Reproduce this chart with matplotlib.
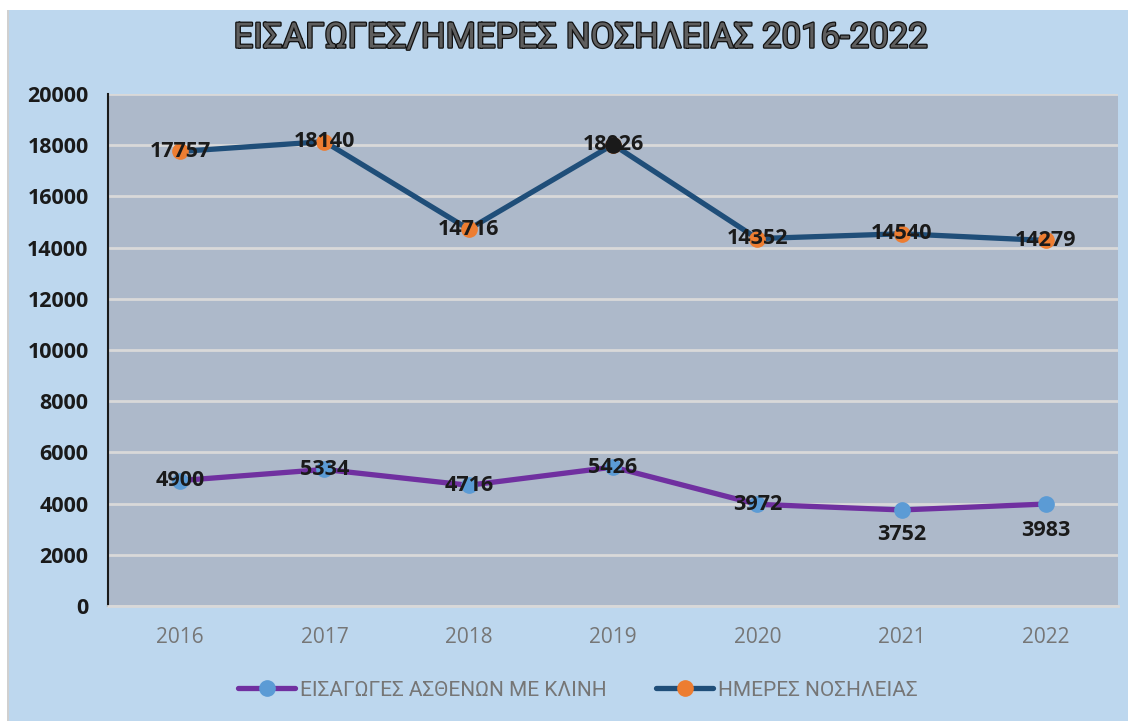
import matplotlib
matplotlib.use('Agg')
import matplotlib.pyplot as plt
import matplotlib.patheffects as pe
from matplotlib.patches import Rectangle

years = ['2016', '2017', '2018', '2019', '2020', '2021', '2022']
admissions = [4900, 5334, 4716, 5426, 3972, 3752, 3983]
hosp_days = [17757, 18140, 14716, 18026, 14352, 14540, 14279]

admissions_name = 'ΕΙΣΑΓΩΓΕΣ ΑΣΘΕΝΩΝ ΜΕ ΚΛΙΝΗ'
hosp_days_name = 'ΗΜΕΡΕΣ ΝΟΣΗΛΕΙΑΣ'
title = 'ΕΙΣΑΓΩΓΕΣ/ΗΜΕΡΕΣ ΝΟΣΗΛΕΙΑΣ 2016-2022'

# label offsets (points) -- last two admissions labels sit below the marker
adm_offsets = [0, 0, 0, 0, 0, -18, -19]
days_offsets = [0, 0, 0, 0, 0, 0, 0]

W, H = 1128, 721
fig = plt.figure(figsize=(W / 100, H / 100), dpi=100, facecolor='white')
fig.patches.append(Rectangle((9 / W, 0), 1 - 9 / W, 1 - 10 / H,
                             transform=fig.transFigure, facecolor='#BDD7EE',
                             edgecolor='none', zorder=-10))
fig.patches.append(Rectangle((7 / W, 0), 2 / W, 1 - 10 / H,
                             transform=fig.transFigure, facecolor='#D0D0D0',
                             edgecolor='none', zorder=-10))

ax = fig.add_axes([108 / W, 1 - 606 / H, (1118 - 108) / W, (606 - 94) / H])
ax.set_facecolor('#ADB9CA')

x = list(range(len(years)))
ax.plot(x, admissions, color='#7030A0', lw=3.8, solid_capstyle='round',
        marker='o', ms=11, mfc='#5B9BD5', mec='#5B9BD5', zorder=3,
        label=admissions_name)
ax.plot(x, hosp_days, color='#1F4E79', lw=3.8, solid_capstyle='round',
        marker='o', ms=11, mfc='#ED7D31', mec='#ED7D31', zorder=3,
        label=hosp_days_name)
# the 2019 marker shows up dark in the original
ax.plot([x[3]], [hosp_days[3]], 'o', ms=11, color='#1A1A1A', zorder=4)

lab_font = dict(family='Open Sans', weight='bold', size=15.5, color='#1A1A1A')
for xi, v, dy in zip(x, admissions, adm_offsets):
    ax.annotate(str(v), (xi, v), xytext=(0, dy), textcoords='offset points',
                ha='center', va='center', zorder=5, **lab_font)
for xi, v, dy in zip(x, hosp_days, days_offsets):
    ax.annotate(str(v), (xi, v), xytext=(0, dy), textcoords='offset points',
                ha='center', va='center', zorder=5, **lab_font)

ax.set_xlim(-0.5, 6.5)
ax.set_ylim(0, 20000)
ax.set_yticks(range(0, 20001, 2000))
ax.set_xticks(x)
ax.set_xticklabels(years, family='Open Sans', size=15, color='#767676')
ax.set_yticklabels([str(t) for t in range(0, 20001, 2000)],
                   family='Open Sans', weight='bold', size=15.5, color='#1A1A1A')
ax.tick_params(axis='x', length=0, pad=15)
ax.tick_params(axis='y', length=0, pad=14)
ax.grid(axis='y', color='#D9D9D9', lw=2)
ax.set_axisbelow(True)
for side in ['top', 'right']:
    ax.spines[side].set_visible(False)
ax.spines['bottom'].set_color('#D9D9D9')
ax.spines['bottom'].set_linewidth(2)
ax.spines['left'].set_color('#1A1A1A')
ax.spines['left'].set_linewidth(1.5)

fig.text(581 / W, 1 - 38 / H, title, ha='center', va='center',
         family='Roboto', size=25, color='#5E5E5E',
         path_effects=[pe.withStroke(linewidth=1.8, foreground='#111111')])

leg = fig.legend(loc='center', bbox_to_anchor=(578 / W, 1 - 690 / H), ncol=2,
                 frameon=False, handlelength=2.7, handletextpad=0.25,
                 columnspacing=2.4, prop=dict(family='Roboto', size=15))
for t in leg.get_texts():
    t.set_color('#767676')

fig.savefig('out.png', dpi=100, facecolor=fig.get_facecolor())
